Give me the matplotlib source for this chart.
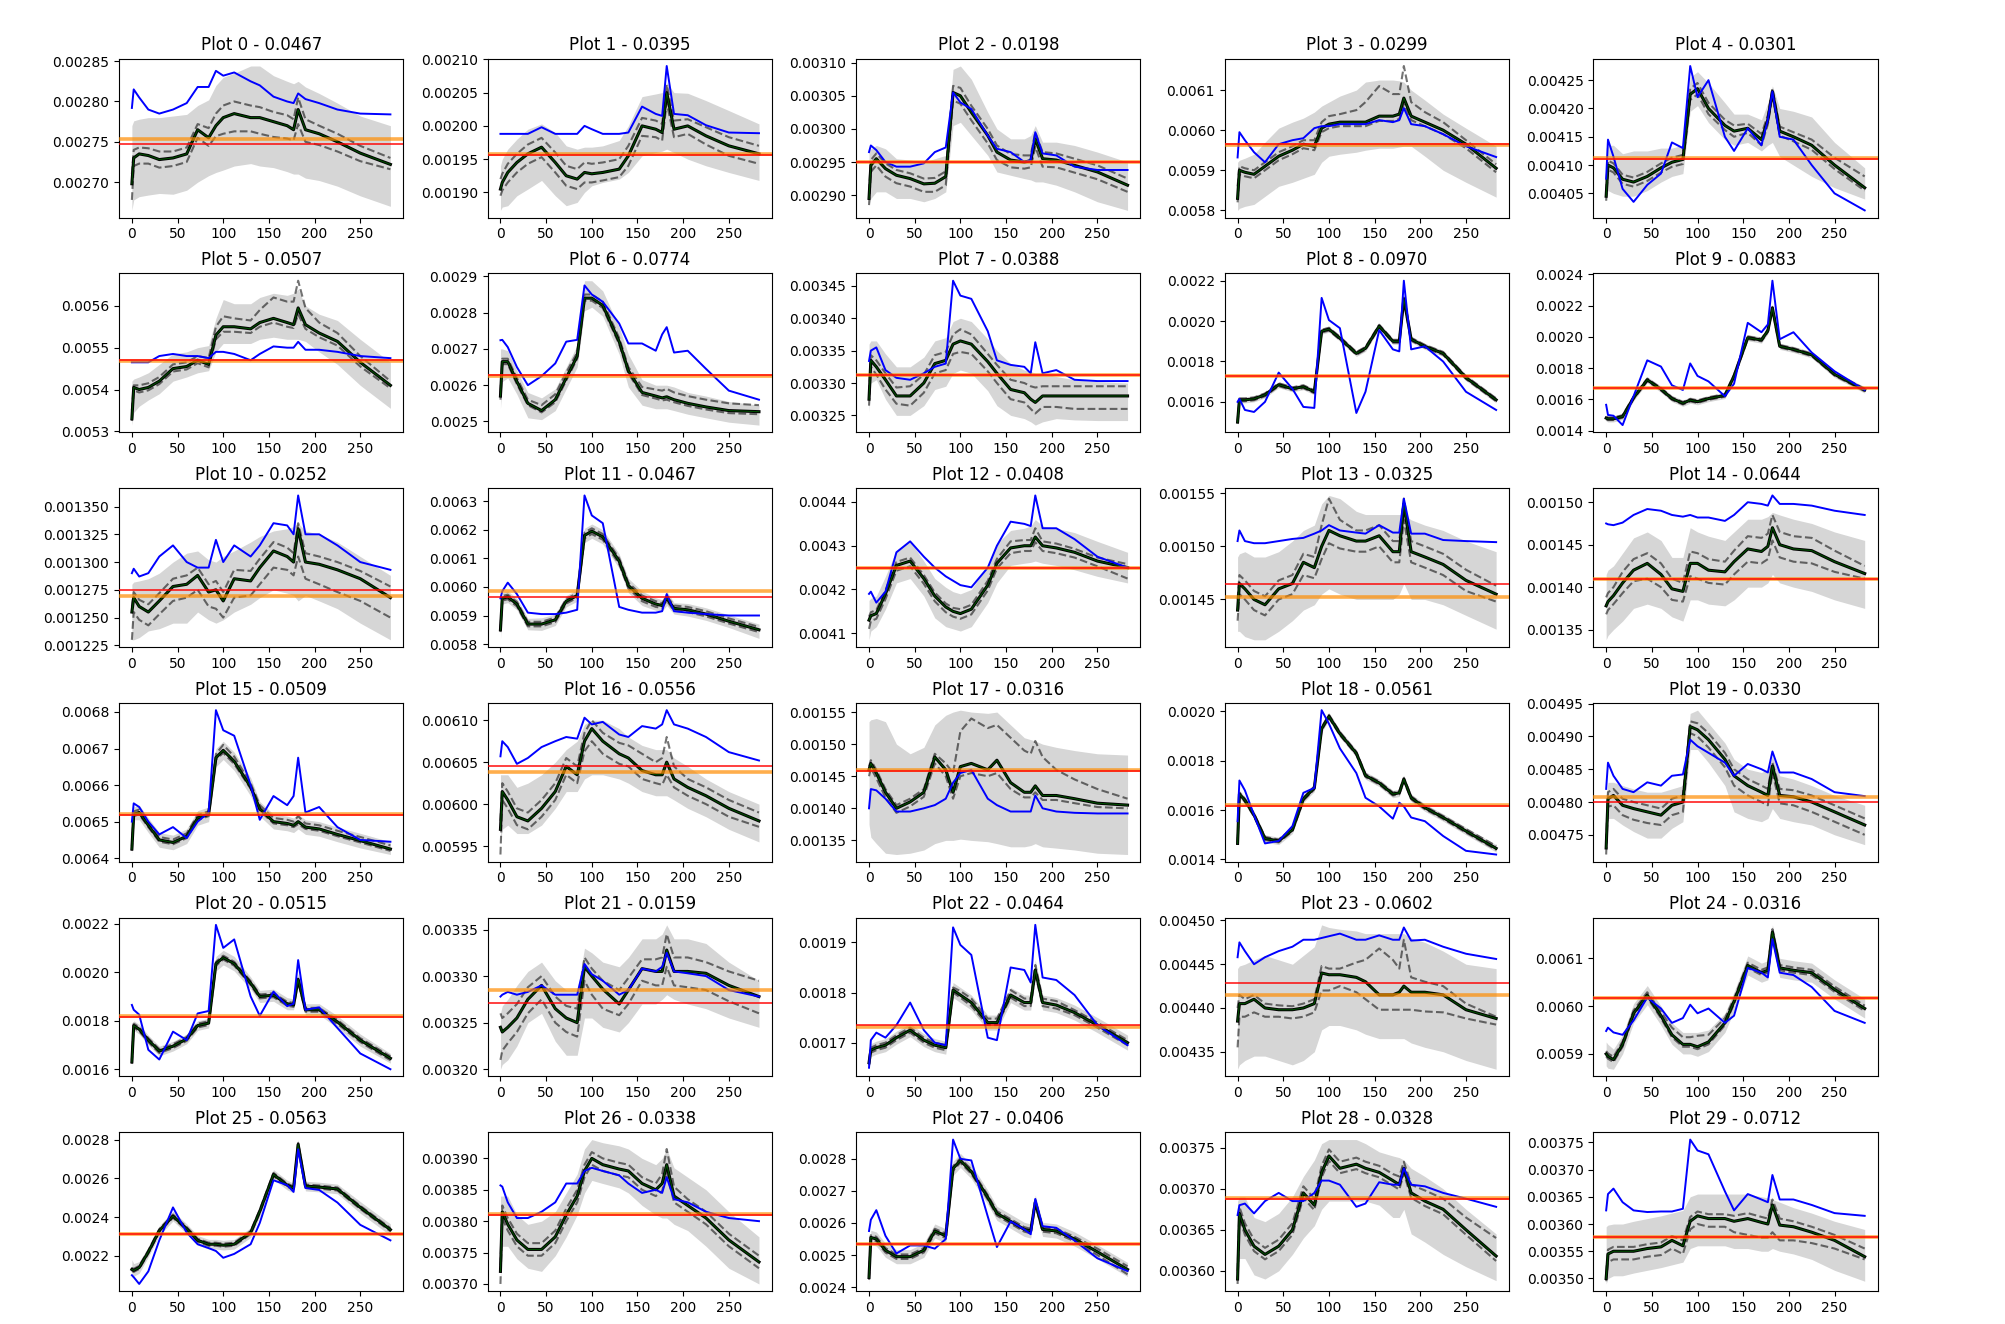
import numpy as np
import matplotlib
matplotlib.use("Agg")
import matplotlib.pyplot as plt
from matplotlib.ticker import MultipleLocator

X = [0, 2, 8, 18, 30, 45, 60, 72, 84, 92, 100, 112, 130, 140, 155, 170, 177, 182, 190, 205, 225, 250, 283]
UNIT = 1e-5  # all values below are in units of 1e-5

SCORES = [0.0467, 0.0395, 0.0198, 0.0299, 0.0301, 0.0507, 0.0774, 0.0388, 0.0970, 0.0883,
          0.0252, 0.0467, 0.0408, 0.0325, 0.0644, 0.0509, 0.0556, 0.0316, 0.0561, 0.0330,
          0.0515, 0.0159, 0.0464, 0.0602, 0.0316, 0.0563, 0.0338, 0.0406, 0.0328, 0.0712]

# y tick spacing of each panel (units of 1e-5)
YSTEP = [5, 5, 5, 10, 5, 10, 10, 5, 20, 20,
         2.5, 10, 10, 5, 5, 10, 5, 5, 20, 5,
         20, 5, 10, 5, 10, 20, 5, 10, 5, 5]

ORANGE = [275.35, 195.75, 294.95, 596.4, 411.2, 546.9, 262.4, 331.3, 172.9, 167.5,
          126.9, 598.5, 425.0, 145.25, 141.0, 652.1, 603.8, 146.0, 162.2, 480.7,
          181.8, 328.5, 173.2, 441.5, 601.8, 231.5, 381.15, 253.4, 368.85, 357.7]
RED = [274.7, 195.6, 295.05, 596.6, 411.0, 547.1, 262.7, 331.2, 172.8, 167.3,
       127.5, 596.5, 424.95, 146.5, 140.95, 651.9, 604.5, 145.8, 161.8, 479.95,
       181.5, 327.1, 173.6, 442.9, 601.6, 231.3, 381.0, 253.3, 368.7, 357.65]

BLUE = [
    [279.2, 281.5, 280.5, 279.0, 278.5, 279.0, 279.8, 281.8, 281.8, 283.8, 283.2, 283.6, 282.5, 282.0, 280.6, 280.0, 279.8, 281.0, 280.3, 279.8, 279.0, 278.5, 278.4],
    [198.8, 198.8, 198.8, 198.8, 198.8, 199.8, 198.8, 198.8, 198.8, 200.0, 199.5, 198.8, 198.8, 199.0, 202.9, 201.8, 201.5, 209.0, 201.8, 201.6, 200.1, 199.0, 198.9],
    [296.5, 297.5, 296.8, 295.0, 294.3, 294.3, 294.8, 296.5, 297.2, 305.5, 304.0, 303.0, 299.0, 297.0, 296.5, 295.0, 295.3, 299.5, 296.3, 296.0, 294.3, 293.8, 293.8],
    [593.2, 599.5, 597.5, 594.5, 592.0, 596.5, 597.5, 598.0, 600.5, 601.0, 601.0, 601.5, 601.5, 601.5, 602.5, 602.0, 602.5, 605.5, 601.5, 601.0, 599.0, 596.0, 593.3],
    [407.6, 414.5, 411.5, 405.8, 403.5, 406.5, 408.5, 414.0, 413.0, 427.5, 422.0, 425.0, 415.0, 412.5, 416.5, 413.5, 418.0, 423.0, 415.0, 414.5, 410.0, 405.0, 402.0],
    [546.5, 546.5, 546.5, 546.5, 548.0, 548.5, 548.0, 548.0, 547.5, 549.0, 549.0, 548.5, 547.0, 548.5, 550.3, 550.0, 550.0, 551.4, 549.5, 549.5, 549.0, 548.0, 547.5],
    [272.4, 272.5, 270.5, 265.0, 260.0, 262.5, 266.0, 272.0, 272.5, 287.5, 285.0, 283.0, 277.0, 271.5, 271.5, 269.5, 274.0, 276.0, 269.0, 269.5, 264.5, 258.5, 256.0],
    [333.4, 335.0, 335.5, 332.0, 330.8, 330.5, 331.5, 332.5, 333.0, 345.8, 343.5, 343.0, 338.0, 333.5, 332.8, 332.5, 331.5, 336.3, 331.5, 332.0, 330.5, 330.3, 330.3],
    [160.0, 161.5, 156.0, 155.0, 160.0, 174.5, 166.5, 157.5, 157.0, 211.5, 200.5, 196.5, 154.5, 165.0, 195.5, 186.0, 185.0, 220.0, 186.0, 187.5, 180.0, 165.0, 156.0],
    [156.5, 150.0, 149.5, 143.5, 162.0, 185.0, 181.0, 169.0, 166.0, 183.0, 175.0, 171.5, 162.0, 170.0, 209.0, 203.0, 208.0, 236.0, 198.5, 203.0, 190.0, 178.0, 166.0],
    [129.0, 129.4, 128.7, 129.0, 130.5, 131.5, 130.0, 129.5, 129.5, 132.0, 130.0, 131.5, 130.5, 131.5, 133.5, 133.3, 132.5, 136.0, 132.5, 132.5, 131.5, 130.0, 129.3],
    [596.0, 598.5, 601.5, 597.5, 591.0, 590.5, 590.5, 591.0, 592.0, 632.0, 625.0, 622.3, 593.0, 592.0, 591.0, 591.0, 591.5, 597.5, 591.5, 591.0, 590.5, 590.0, 590.0],
    [419.0, 419.5, 417.0, 419.5, 428.5, 431.0, 427.5, 425.0, 423.0, 422.0, 421.0, 420.5, 425.0, 430.0, 435.5, 435.0, 434.5, 441.5, 434.0, 434.0, 431.5, 427.5, 425.0],
    [150.5, 151.5, 150.5, 150.3, 150.3, 150.5, 150.7, 150.8, 151.2, 151.5, 152.0, 151.5, 151.3, 151.2, 152.0, 151.3, 151.3, 154.5, 151.2, 151.2, 150.6, 150.5, 150.4],
    [147.5, 147.4, 147.3, 147.6, 148.5, 149.2, 149.0, 148.5, 148.3, 148.5, 148.2, 148.2, 147.8, 148.5, 150.0, 149.8, 149.6, 150.8, 149.8, 149.8, 149.6, 149.0, 148.5],
    [650.0, 655.0, 654.0, 650.0, 646.5, 648.5, 645.5, 650.0, 652.5, 680.5, 675.0, 673.5, 660.0, 650.5, 657.0, 654.5, 657.0, 667.5, 652.5, 654.0, 648.5, 645.0, 644.5],
    [605.7, 607.5, 606.8, 604.8, 605.5, 606.8, 607.5, 608.0, 607.8, 610.3, 609.5, 609.8, 608.3, 608.0, 609.3, 609.0, 609.5, 611.2, 609.5, 609.0, 608.0, 606.2, 605.2],
    [140.0, 143.0, 142.8, 141.5, 139.5, 139.5, 140.0, 140.5, 141.5, 144.0, 145.5, 146.0, 141.5, 140.5, 139.5, 139.5, 139.5, 142.0, 140.0, 139.5, 139.3, 139.2, 139.2],
    [155.5, 172.0, 168.0, 158.0, 146.5, 147.5, 153.5, 167.0, 169.0, 200.5, 195.0, 185.0, 175.0, 165.0, 161.5, 156.5, 163.0, 161.5, 157.0, 155.5, 149.5, 143.5, 142.0],
    [482.0, 486.0, 484.0, 482.0, 481.5, 483.0, 482.5, 484.0, 484.2, 489.5, 488.5, 487.5, 486.0, 484.0, 485.8, 485.0, 484.5, 487.7, 484.5, 484.5, 483.5, 481.5, 480.9],
    [186.5, 184.5, 182.5, 168.0, 164.0, 175.5, 172.0, 183.0, 184.0, 219.5, 210.0, 213.5, 190.0, 182.0, 192.0, 186.0, 187.0, 205.0, 184.5, 185.5, 177.0, 166.5, 160.0],
    [327.8, 328.0, 328.3, 328.0, 328.3, 329.0, 328.0, 328.0, 328.0, 331.3, 330.2, 329.5, 328.0, 328.5, 330.8, 330.5, 331.0, 332.5, 330.5, 330.3, 330.0, 328.5, 327.8],
    [165.0, 170.5, 172.0, 171.0, 173.5, 178.0, 172.5, 170.0, 169.5, 193.0, 189.5, 187.5, 171.0, 170.5, 185.0, 184.5, 182.0, 193.5, 183.0, 182.5, 179.5, 173.5, 169.5],
    [445.8, 447.5, 446.5, 445.0, 445.8, 446.5, 447.0, 447.8, 447.8, 448.0, 448.2, 448.5, 447.8, 447.8, 448.3, 447.8, 447.8, 449.2, 447.7, 447.8, 447.0, 446.2, 445.6],
    [594.8, 595.5, 594.5, 594.0, 597.0, 601.8, 599.5, 596.5, 597.5, 600.3, 598.5, 599.5, 596.5, 598.0, 608.0, 607.0, 606.0, 614.0, 607.0, 606.5, 604.0, 599.0, 596.5],
    [210.0, 209.0, 205.5, 212.0, 228.0, 245.0, 232.0, 226.0, 224.0, 222.5, 219.0, 221.0, 226.0, 237.0, 259.0, 256.5, 253.0, 275.0, 255.0, 254.0, 247.5, 236.0, 228.0],
    [385.7, 385.5, 383.0, 380.5, 380.5, 381.5, 383.0, 386.0, 386.0, 388.0, 388.5, 388.0, 387.3, 386.0, 384.5, 385.0, 384.5, 387.0, 383.5, 383.0, 381.5, 380.5, 380.0],
    [257.5, 261.0, 264.0, 256.0, 250.5, 253.0, 253.0, 252.0, 255.0, 286.0, 280.0, 279.5, 262.0, 252.5, 260.5, 258.0, 256.5, 267.5, 259.0, 258.5, 254.5, 249.0, 245.0],
    [366.8, 368.0, 368.2, 367.0, 368.5, 369.5, 368.5, 368.5, 369.5, 371.0, 371.0, 370.5, 367.8, 368.2, 370.8, 370.5, 370.5, 372.5, 370.5, 370.3, 369.5, 368.8, 367.8],
    [362.5, 365.5, 366.5, 364.0, 362.5, 362.2, 362.3, 362.3, 362.8, 375.5, 373.5, 372.8, 366.0, 362.5, 365.5, 364.5, 364.0, 369.0, 364.5, 364.5, 363.5, 362.0, 361.5],
]

BLACK = [
    [269.8, 273.0, 273.5, 273.3, 272.8, 273.0, 273.5, 276.5, 275.5, 277.0, 278.0, 278.5, 278.0, 278.0, 277.5, 277.0, 276.5, 279.0, 276.5, 276.0, 275.0, 273.6, 272.2],
    [190.5, 191.5, 193.0, 194.5, 195.8, 196.8, 194.5, 192.5, 192.0, 193.0, 192.8, 193.0, 193.5, 195.5, 200.0, 199.5, 199.0, 205.0, 199.5, 200.0, 198.5, 197.0, 195.8],
    [289.5, 294.5, 295.5, 294.0, 293.0, 292.5, 291.7, 291.8, 292.8, 305.5, 305.0, 302.5, 299.0, 296.5, 295.3, 295.0, 295.2, 298.5, 295.5, 295.3, 294.5, 293.5, 291.5],
    [583.0, 590.0, 589.5, 589.0, 591.0, 593.5, 595.0, 596.5, 596.0, 600.5, 601.5, 602.0, 602.0, 602.0, 603.5, 603.5, 604.0, 608.0, 603.5, 602.0, 600.0, 596.5, 590.5],
    [404.5, 410.0, 409.5, 407.5, 407.0, 408.0, 409.5, 410.5, 411.0, 422.5, 423.5, 420.0, 417.0, 416.0, 416.5, 414.5, 418.0, 423.0, 416.0, 415.0, 413.5, 410.0, 406.0],
    [533.0, 540.5, 540.0, 540.5, 542.0, 545.0, 545.5, 547.0, 546.0, 553.0, 555.0, 555.0, 554.5, 556.0, 557.0, 556.0, 555.5, 559.5, 555.5, 553.5, 551.5, 546.5, 541.0],
    [257.0, 266.5, 266.5, 261.0, 255.0, 253.0, 256.0, 262.0, 268.0, 284.0, 284.0, 282.0, 272.0, 264.0, 258.0, 257.0, 256.5, 256.8, 256.0, 255.0, 254.0, 253.0, 252.7],
    [327.5, 333.5, 332.5, 330.5, 328.0, 328.0, 330.0, 333.0, 333.5, 336.0, 336.5, 336.0, 333.3, 331.5, 329.0, 328.5, 327.5, 327.0, 328.0, 328.0, 328.0, 328.0, 328.0],
    [150.0, 161.0, 161.0, 161.5, 163.5, 168.5, 166.5, 167.5, 165.0, 195.0, 196.0, 191.5, 184.0, 186.5, 197.5, 190.0, 190.0, 211.0, 191.0, 187.5, 184.0, 172.0, 161.0],
    [148.0, 147.5, 147.5, 149.0, 161.0, 172.5, 166.5, 160.5, 157.5, 159.5, 158.5, 160.5, 162.5, 175.0, 199.5, 198.0, 204.0, 218.5, 194.0, 192.0, 188.5, 176.0, 166.0],
    [125.5, 126.8, 126.0, 125.5, 126.5, 127.8, 128.0, 128.8, 127.3, 127.5, 126.5, 128.5, 128.3, 129.5, 131.0, 130.5, 130.0, 133.0, 130.0, 129.8, 129.3, 128.5, 126.8],
    [585.0, 596.0, 596.5, 594.0, 587.0, 587.0, 588.5, 595.0, 597.0, 618.0, 619.5, 617.5, 609.0, 600.5, 596.0, 594.0, 593.5, 596.0, 592.5, 592.0, 590.5, 588.0, 585.0],
    [413.0, 414.0, 414.5, 419.0, 425.5, 426.5, 422.5, 418.5, 416.0, 415.0, 414.5, 415.5, 421.0, 426.0, 429.5, 430.0, 430.0, 432.0, 430.0, 429.5, 428.5, 426.5, 425.0],
    [144.0, 146.5, 146.0, 145.0, 144.5, 146.0, 146.5, 148.5, 148.0, 150.0, 151.5, 151.0, 150.5, 150.5, 151.0, 149.5, 149.5, 154.0, 149.5, 149.0, 148.3, 146.8, 145.5],
    [137.8, 138.3, 139.0, 140.5, 142.0, 142.8, 141.5, 139.8, 139.5, 142.8, 142.8, 142.0, 141.8, 143.0, 144.5, 144.2, 144.8, 147.0, 145.0, 144.5, 144.3, 143.0, 141.6],
    [642.5, 652.0, 652.5, 649.0, 645.0, 644.3, 646.0, 651.0, 652.0, 667.5, 669.5, 666.5, 659.5, 653.5, 650.0, 649.5, 649.0, 650.0, 648.5, 648.0, 646.5, 644.8, 642.5],
    [597.0, 601.5, 600.5, 598.5, 598.0, 599.5, 601.5, 604.5, 603.5, 607.5, 609.0, 607.5, 606.0, 605.5, 604.0, 603.5, 603.5, 605.0, 603.0, 602.0, 601.0, 599.5, 598.0],
    [146.0, 147.0, 145.5, 142.5, 140.0, 141.0, 142.5, 148.0, 146.0, 142.5, 146.5, 147.0, 146.0, 147.5, 144.0, 142.5, 142.5, 143.5, 142.0, 142.0, 141.5, 140.8, 140.5],
    [146.5, 166.5, 164.0, 158.0, 148.5, 147.5, 152.0, 164.5, 169.0, 193.0, 198.0, 191.0, 183.0, 174.0, 171.0, 166.5, 167.0, 172.5, 165.0, 161.0, 157.0, 151.5, 144.5],
    [473.0, 480.5, 481.0, 479.5, 479.0, 478.5, 478.0, 479.5, 480.0, 491.5, 491.0, 489.5, 486.5, 484.0, 482.5, 481.5, 481.0, 485.5, 481.0, 480.8, 480.0, 478.5, 476.5],
    [163.0, 178.0, 176.5, 172.0, 167.5, 169.5, 172.5, 178.0, 179.0, 203.5, 206.0, 203.5, 195.5, 190.0, 190.5, 187.0, 186.5, 197.0, 184.5, 184.5, 179.5, 172.0, 164.5],
    [324.5, 324.0, 324.5, 325.5, 327.5, 329.0, 326.5, 325.5, 325.0, 331.0, 330.0, 328.6, 327.0, 328.5, 330.8, 330.5, 330.5, 332.8, 330.5, 330.5, 330.3, 329.0, 327.8],
    [166.0, 168.5, 169.0, 169.5, 171.0, 172.5, 170.5, 169.5, 169.0, 180.5, 179.5, 178.0, 174.0, 174.0, 179.5, 178.0, 178.0, 184.5, 178.0, 177.5, 176.0, 173.5, 170.0],
    [438.5, 440.5, 440.5, 441.0, 440.0, 439.8, 439.8, 440.0, 440.5, 444.0, 443.8, 443.8, 443.5, 443.0, 441.5, 441.5, 441.8, 442.5, 441.8, 441.8, 441.5, 439.8, 438.8],
    [590.0, 589.5, 588.8, 592.0, 598.5, 602.3, 598.0, 594.0, 592.0, 592.0, 591.5, 592.5, 596.5, 601.0, 608.5, 607.0, 607.5, 615.5, 608.0, 607.5, 607.0, 603.5, 599.5],
    [213.0, 212.5, 214.0, 222.0, 233.0, 240.5, 234.0, 228.0, 226.0, 226.0, 225.5, 226.0, 232.0, 243.0, 262.0, 256.5, 255.0, 277.5, 256.0, 255.5, 254.5, 245.0, 233.5],
    [372.0, 381.5, 379.5, 377.0, 375.5, 375.5, 377.5, 381.0, 384.0, 388.0, 390.0, 389.0, 388.3, 388.0, 386.0, 385.0, 386.0, 389.0, 384.0, 382.5, 380.5, 377.0, 373.5],
    [243.0, 255.5, 255.0, 251.5, 249.5, 249.5, 251.5, 257.5, 256.0, 277.0, 279.5, 276.0, 268.0, 263.0, 260.5, 258.0, 257.5, 266.5, 258.0, 257.5, 255.0, 251.0, 245.5],
    [359.0, 367.0, 365.0, 363.0, 362.0, 363.0, 365.0, 369.5, 368.0, 372.0, 374.0, 372.5, 373.0, 372.5, 372.0, 371.0, 370.5, 372.5, 369.5, 368.5, 367.5, 365.0, 361.8],
    [350.0, 354.5, 355.0, 355.0, 355.0, 355.5, 355.8, 357.0, 356.0, 360.5, 361.5, 361.0, 361.0, 360.5, 361.0, 360.3, 360.0, 363.5, 359.8, 359.5, 358.5, 357.0, 354.0],
]

DASH_HI = [
    [271.0, 274.0, 274.3, 274.2, 273.8, 273.8, 274.3, 277.2, 276.7, 278.5, 279.5, 280.0, 279.5, 279.3, 278.7, 278.3, 277.8, 280.5, 277.8, 277.0, 276.0, 274.5, 273.0],
    [192.0, 192.8, 194.3, 195.8, 197.2, 198.2, 196.0, 194.0, 193.5, 194.5, 194.3, 194.5, 195.0, 197.0, 201.2, 200.8, 200.3, 206.2, 200.8, 201.0, 199.8, 198.3, 197.0],
    [290.5, 295.3, 296.3, 294.8, 293.8, 293.3, 292.5, 292.6, 293.6, 306.5, 306.2, 303.5, 300.0, 297.5, 296.2, 296.0, 296.0, 299.5, 296.5, 296.3, 295.5, 294.5, 292.5],
    [586.0, 591.0, 590.5, 590.0, 592.0, 594.5, 596.0, 597.5, 597.5, 602.0, 603.5, 604.0, 605.0, 607.0, 611.0, 609.0, 609.0, 616.0, 607.0, 604.5, 602.0, 597.5, 591.5],
    [405.3, 410.8, 410.3, 408.3, 407.8, 408.8, 410.3, 411.3, 411.8, 423.5, 424.5, 421.0, 418.0, 417.0, 417.3, 415.5, 418.8, 423.5, 416.8, 415.8, 414.5, 411.3, 408.0],
    [535.0, 541.0, 541.0, 541.5, 543.0, 546.0, 546.5, 548.0, 547.5, 555.0, 557.5, 557.0, 556.5, 559.0, 562.0, 561.0, 561.0, 566.0, 559.5, 556.0, 553.5, 548.0, 542.0],
    [258.0, 267.3, 267.3, 262.0, 256.0, 254.5, 257.5, 263.5, 269.0, 285.0, 285.0, 283.0, 273.0, 265.0, 259.5, 258.8, 258.5, 259.0, 258.0, 257.0, 256.0, 255.0, 254.5],
    [328.5, 334.3, 333.5, 331.5, 329.3, 329.5, 331.3, 334.3, 334.8, 337.5, 338.3, 337.5, 334.5, 332.8, 330.5, 330.0, 329.5, 329.3, 329.5, 329.5, 329.5, 329.5, 329.5],
    [150.7, 161.7, 161.7, 162.2, 164.2, 169.2, 167.2, 168.2, 165.7, 195.7, 196.7, 192.2, 184.7, 187.2, 198.2, 190.7, 190.7, 211.7, 191.7, 188.2, 184.7, 172.7, 161.7],
    [148.8, 148.3, 148.3, 149.8, 161.8, 173.3, 167.3, 161.3, 158.3, 160.3, 159.3, 161.3, 163.3, 175.8, 200.3, 198.8, 204.8, 219.3, 194.8, 192.8, 189.3, 176.8, 166.8],
    [126.0, 127.3, 126.6, 126.2, 127.2, 128.5, 128.8, 129.5, 128.0, 128.3, 127.3, 129.3, 129.2, 130.3, 131.8, 131.3, 130.8, 133.5, 130.8, 130.5, 130.0, 129.2, 127.8],
    [585.8, 596.8, 597.3, 594.8, 587.8, 587.8, 589.3, 595.8, 597.8, 619.0, 620.5, 618.5, 610.0, 601.5, 597.0, 595.0, 594.3, 596.8, 593.5, 593.0, 591.5, 589.0, 586.0],
    [413.8, 414.8, 415.3, 419.8, 426.3, 427.3, 423.3, 419.3, 416.8, 415.8, 415.5, 416.5, 422.0, 427.0, 431.0, 431.3, 431.3, 434.0, 431.0, 430.5, 429.3, 427.3, 425.8],
    [145.0, 147.3, 146.8, 145.8, 145.3, 146.8, 147.3, 149.3, 149.0, 152.0, 154.5, 152.5, 151.5, 151.5, 152.0, 150.5, 150.5, 154.5, 150.5, 150.0, 149.3, 147.8, 146.3],
    [138.8, 139.3, 140.0, 141.8, 143.3, 144.0, 142.8, 141.0, 140.5, 144.2, 144.0, 143.3, 143.0, 144.3, 146.0, 145.8, 146.3, 148.5, 146.5, 146.0, 145.8, 144.3, 142.5],
    [643.3, 652.8, 653.3, 649.8, 645.8, 645.1, 646.8, 651.8, 652.8, 668.5, 671.0, 667.8, 660.5, 654.5, 651.0, 650.5, 650.0, 651.5, 649.5, 649.0, 647.5, 645.8, 643.5],
    [598.0, 602.5, 601.5, 599.5, 599.0, 600.5, 602.5, 605.5, 604.5, 608.5, 610.0, 608.5, 607.3, 607.0, 606.0, 605.0, 605.5, 608.0, 604.5, 603.0, 602.0, 600.5, 599.0],
    [146.5, 147.5, 146.0, 143.0, 140.5, 141.5, 143.0, 148.5, 147.0, 145.5, 152.0, 154.0, 152.5, 153.0, 151.0, 149.0, 148.5, 150.5, 148.0, 146.0, 144.5, 143.0, 141.5],
    [147.1, 167.1, 164.6, 158.6, 149.1, 148.1, 152.6, 165.1, 169.6, 193.6, 198.6, 191.6, 183.6, 174.6, 171.6, 167.1, 167.6, 173.1, 165.6, 161.6, 157.6, 152.3, 145.5],
    [474.0, 481.5, 482.0, 480.5, 480.0, 479.5, 479.0, 480.5, 481.0, 492.3, 492.0, 490.5, 487.5, 485.0, 483.5, 482.5, 482.0, 486.0, 482.0, 481.8, 481.0, 479.5, 477.5],
    [163.8, 178.8, 177.3, 172.8, 168.3, 170.3, 173.3, 178.8, 179.8, 204.3, 206.8, 204.3, 196.3, 190.8, 191.3, 187.8, 187.3, 197.8, 185.3, 185.3, 180.3, 172.8, 165.3],
    [326.0, 325.5, 326.0, 327.0, 328.8, 330.0, 327.8, 326.8, 326.5, 332.0, 330.8, 329.5, 328.5, 329.8, 331.8, 331.8, 332.0, 334.5, 332.0, 332.0, 331.5, 330.5, 329.5],
    [166.5, 169.0, 169.5, 170.0, 171.5, 173.0, 171.0, 170.0, 169.5, 181.0, 180.3, 178.8, 174.8, 174.8, 180.5, 178.8, 178.8, 185.5, 178.8, 178.3, 176.5, 174.0, 170.5],
    [440.0, 441.5, 441.0, 441.5, 440.5, 440.3, 440.2, 440.5, 441.0, 444.8, 444.5, 444.5, 445.2, 445.5, 446.8, 445.5, 444.5, 447.8, 443.5, 443.0, 442.5, 440.5, 439.0],
    [590.6, 590.1, 589.4, 592.6, 599.1, 602.9, 598.8, 595.5, 593.5, 593.5, 593.8, 594.0, 597.5, 601.6, 609.1, 607.6, 608.1, 616.1, 608.6, 608.1, 607.6, 604.1, 600.1],
    [213.8, 213.3, 214.8, 222.8, 233.8, 241.3, 234.8, 228.8, 226.8, 226.8, 226.3, 226.8, 232.8, 243.8, 262.8, 257.3, 255.8, 278.3, 256.8, 256.3, 255.3, 245.8, 234.3],
    [373.0, 382.5, 380.5, 378.0, 376.5, 376.5, 378.5, 382.0, 385.0, 389.0, 391.0, 390.0, 389.3, 389.0, 387.0, 386.0, 387.5, 391.5, 385.5, 383.5, 381.5, 378.0, 374.5],
    [243.7, 256.2, 255.7, 252.2, 250.2, 250.2, 252.2, 258.2, 256.7, 277.7, 280.2, 276.7, 268.7, 263.7, 261.2, 258.7, 258.2, 267.2, 258.7, 258.2, 255.7, 252.0, 246.5],
    [360.0, 367.8, 365.8, 363.8, 362.8, 363.8, 365.8, 370.3, 368.8, 372.8, 374.8, 373.3, 373.8, 373.3, 372.8, 371.8, 371.5, 373.3, 370.5, 369.8, 368.8, 366.5, 364.0],
    [351.0, 355.3, 355.8, 355.8, 355.8, 356.3, 356.6, 357.8, 357.0, 361.3, 362.3, 361.8, 361.8, 361.5, 362.0, 361.3, 361.0, 364.5, 361.0, 360.5, 359.5, 358.0, 355.5],
]

DASH_LO = [
    [267.8, 272.0, 272.3, 272.3, 271.8, 272.0, 272.5, 275.5, 274.5, 275.7, 276.0, 276.3, 276.3, 276.0, 275.6, 275.4, 275.2, 277.2, 275.0, 274.6, 273.8, 272.6, 271.6],
    [189.5, 190.3, 191.5, 193.0, 194.3, 195.3, 193.0, 191.0, 190.5, 191.5, 191.5, 191.8, 192.3, 194.0, 198.5, 198.3, 197.8, 203.5, 198.3, 198.8, 197.2, 195.5, 194.3],
    [288.5, 293.5, 294.5, 292.8, 291.8, 291.3, 290.5, 290.5, 291.5, 304.3, 303.8, 301.3, 297.8, 295.3, 294.2, 294.0, 294.2, 297.3, 294.3, 294.2, 293.4, 292.4, 290.5],
    [582.0, 589.0, 588.5, 588.0, 590.0, 592.5, 594.0, 595.5, 595.0, 599.5, 600.5, 601.0, 601.0, 601.0, 602.3, 602.3, 602.8, 606.5, 602.5, 601.0, 599.0, 595.5, 589.5],
    [403.7, 409.2, 408.7, 406.7, 406.2, 407.2, 408.7, 409.7, 410.2, 421.5, 422.5, 419.0, 416.2, 415.0, 415.7, 413.5, 417.2, 422.3, 415.2, 414.2, 412.7, 409.3, 405.5],
    [532.5, 539.8, 539.3, 539.8, 541.3, 544.3, 544.8, 546.3, 545.3, 552.0, 553.8, 553.8, 553.5, 555.0, 556.0, 555.0, 554.7, 558.0, 554.5, 552.5, 550.5, 545.5, 540.3],
    [256.0, 265.8, 265.8, 260.3, 254.5, 252.5, 255.3, 261.3, 267.3, 283.3, 283.3, 281.3, 271.3, 263.3, 257.3, 256.3, 255.8, 256.0, 255.3, 254.3, 253.3, 252.3, 252.0],
    [326.5, 332.5, 331.3, 329.0, 326.8, 326.5, 328.5, 331.5, 332.0, 334.5, 334.8, 334.5, 331.8, 330.0, 327.5, 327.0, 326.0, 325.3, 326.3, 326.3, 326.0, 326.0, 326.0],
    [149.3, 160.3, 160.3, 160.8, 162.8, 167.8, 165.8, 166.8, 164.3, 194.3, 195.3, 190.8, 183.3, 185.8, 196.8, 189.3, 189.3, 210.3, 190.3, 186.8, 183.3, 171.3, 160.3],
    [147.2, 146.7, 146.7, 148.2, 160.2, 171.7, 165.7, 159.7, 156.7, 158.7, 157.7, 159.7, 161.7, 174.2, 198.7, 197.2, 203.2, 217.7, 193.2, 191.2, 187.7, 175.2, 165.2],
    [123.0, 125.5, 124.8, 124.3, 125.3, 126.5, 126.8, 127.5, 126.0, 125.8, 125.0, 126.8, 127.0, 128.0, 129.5, 129.3, 128.8, 130.5, 128.5, 128.0, 127.3, 126.5, 125.0],
    [584.2, 595.2, 595.7, 593.2, 586.2, 586.2, 587.7, 594.2, 596.2, 617.0, 618.5, 616.5, 608.0, 599.5, 595.0, 593.0, 592.7, 595.2, 591.7, 591.2, 589.7, 587.2, 584.2],
    [411.0, 412.8, 413.3, 417.8, 424.3, 425.3, 421.3, 417.3, 414.8, 413.8, 413.3, 414.3, 419.8, 424.8, 428.3, 428.8, 428.8, 430.8, 428.8, 428.3, 427.3, 425.3, 422.5],
    [143.0, 145.5, 145.0, 144.0, 143.5, 145.0, 145.5, 147.3, 147.0, 148.8, 150.3, 149.8, 149.5, 149.5, 150.0, 148.5, 148.5, 152.5, 148.5, 148.0, 147.3, 145.8, 144.8],
    [136.8, 137.3, 138.0, 139.3, 140.7, 141.0, 140.0, 138.5, 138.3, 141.3, 141.0, 140.5, 140.3, 141.5, 143.0, 142.8, 143.3, 145.5, 143.5, 143.0, 142.8, 141.8, 141.0],
    [642.0, 651.5, 652.0, 648.5, 644.5, 643.8, 645.5, 650.5, 651.5, 667.0, 668.8, 665.8, 659.0, 653.0, 649.5, 649.0, 648.5, 649.3, 648.0, 647.5, 646.0, 644.3, 642.0],
    [594.0, 600.5, 599.5, 597.5, 597.0, 598.5, 600.5, 603.5, 602.5, 606.3, 607.5, 606.0, 604.8, 604.5, 603.0, 602.5, 602.3, 603.5, 602.0, 601.0, 600.0, 598.5, 597.3],
    [145.0, 146.3, 144.7, 141.7, 139.3, 140.3, 141.8, 147.0, 145.0, 141.5, 145.0, 145.5, 145.0, 145.5, 143.0, 141.7, 141.7, 142.5, 141.3, 141.3, 140.8, 140.2, 140.0],
    [145.9, 165.9, 163.4, 157.4, 147.9, 146.9, 151.4, 163.9, 168.4, 192.4, 197.4, 190.4, 182.4, 173.4, 170.4, 165.9, 166.4, 171.9, 164.4, 160.4, 156.4, 150.9, 143.9],
    [472.0, 479.3, 479.5, 478.0, 477.3, 476.8, 476.5, 478.0, 478.5, 490.5, 490.0, 488.3, 485.3, 482.5, 481.0, 480.0, 479.5, 484.5, 479.8, 479.5, 478.5, 477.0, 475.0],
    [162.2, 177.2, 175.7, 171.2, 166.7, 168.7, 171.7, 177.2, 178.2, 202.7, 205.2, 202.7, 194.7, 189.2, 189.7, 186.2, 185.7, 196.2, 183.7, 183.7, 178.7, 171.2, 163.7],
    [321.0, 322.0, 322.8, 324.0, 326.0, 327.5, 325.0, 324.0, 323.5, 329.5, 328.0, 326.5, 325.8, 327.0, 329.5, 329.0, 329.0, 331.0, 329.0, 328.8, 328.5, 327.3, 326.0],
    [165.5, 168.0, 168.5, 169.0, 170.5, 172.0, 170.0, 169.0, 168.5, 180.0, 179.0, 177.3, 173.5, 173.5, 179.0, 177.3, 177.3, 183.8, 177.3, 176.8, 175.5, 173.0, 169.5],
    [435.5, 439.0, 439.0, 439.5, 439.0, 439.0, 438.8, 439.0, 439.5, 442.0, 442.0, 442.5, 441.8, 441.0, 439.8, 439.8, 439.8, 439.8, 439.8, 439.6, 439.5, 438.8, 438.1],
    [589.5, 589.0, 588.3, 591.5, 598.0, 601.8, 597.5, 593.5, 591.5, 591.5, 591.0, 592.0, 596.0, 600.5, 608.0, 606.5, 607.0, 615.0, 607.5, 607.0, 606.5, 603.0, 599.0],
    [212.2, 211.7, 213.2, 221.2, 232.2, 239.7, 233.2, 227.2, 225.2, 225.2, 224.7, 225.2, 231.2, 242.2, 261.2, 255.7, 254.2, 276.7, 255.2, 254.7, 253.7, 244.2, 232.7],
    [370.0, 380.5, 378.5, 376.0, 374.5, 374.5, 376.5, 380.0, 383.0, 387.0, 389.0, 388.0, 387.3, 387.0, 385.0, 384.0, 384.8, 387.8, 383.0, 381.5, 379.5, 376.0, 372.5],
    [242.3, 254.8, 254.3, 250.8, 248.8, 248.8, 250.8, 256.8, 255.3, 276.3, 278.8, 275.3, 267.3, 262.3, 259.8, 257.3, 256.8, 265.8, 257.3, 256.8, 254.3, 250.0, 244.0],
    [358.4, 366.4, 364.4, 362.4, 361.4, 362.4, 364.4, 368.9, 367.4, 371.4, 373.4, 371.9, 372.4, 371.9, 371.4, 370.4, 369.9, 371.9, 368.9, 367.9, 366.9, 364.4, 361.2],
    [349.5, 353.0, 353.5, 353.5, 353.5, 354.0, 354.3, 355.5, 354.5, 359.0, 360.0, 359.5, 359.5, 358.5, 358.0, 357.5, 357.5, 358.5, 357.0, 357.0, 356.5, 355.5, 353.5],
]

BAND_LO = [
    [266.5, 267.8, 268.2, 268.4, 268.6, 268.5, 269.0, 270.0, 270.8, 271.2, 271.5, 272.0, 272.3, 272.0, 271.8, 271.3, 271.0, 271.0, 270.5, 270.2, 269.5, 268.3, 267.0],
    [187.3, 187.8, 188.0, 189.5, 190.5, 191.8, 189.5, 188.0, 188.5, 190.0, 191.0, 191.5, 192.0, 193.0, 195.5, 196.0, 196.2, 196.5, 196.0, 195.0, 194.0, 193.0, 191.8],
    [288.5, 289.5, 290.5, 290.5, 289.5, 289.5, 289.0, 289.5, 290.5, 300.5, 301.0, 299.0, 296.0, 293.5, 293.0, 292.5, 292.3, 292.0, 292.0, 291.5, 290.5, 289.0, 287.7],
    [580.0, 580.5, 581.0, 581.5, 583.5, 586.0, 587.0, 588.0, 589.0, 592.0, 593.5, 594.0, 594.5, 595.0, 595.5, 595.5, 595.8, 596.0, 596.0, 593.5, 590.0, 587.0, 583.3],
    [404.0, 405.5, 405.0, 404.5, 404.5, 405.5, 407.0, 408.0, 408.5, 419.5, 420.5, 417.5, 414.5, 413.5, 414.0, 412.5, 413.5, 414.0, 411.5, 410.0, 408.0, 406.0, 404.0],
    [531.5, 534.5, 536.0, 537.5, 539.0, 542.0, 543.0, 544.0, 544.5, 549.0, 551.0, 551.0, 551.0, 552.0, 552.5, 552.0, 552.0, 552.0, 551.5, 549.0, 546.0, 541.0, 535.5],
    [253.5, 261.0, 262.0, 257.5, 251.0, 250.5, 253.0, 259.0, 265.0, 280.5, 281.5, 279.0, 268.5, 259.5, 254.5, 253.5, 253.5, 253.5, 253.0, 252.0, 251.0, 249.8, 249.0],
    [325.5, 330.0, 330.5, 327.5, 325.0, 325.0, 326.5, 329.0, 329.5, 331.5, 332.0, 331.5, 328.8, 326.5, 325.0, 324.5, 324.0, 323.5, 324.0, 324.5, 324.3, 324.2, 324.2],
    [148.5, 159.5, 159.5, 160.0, 162.0, 167.0, 165.0, 166.0, 163.5, 193.5, 194.5, 190.0, 182.5, 185.0, 196.0, 188.5, 188.5, 209.5, 189.5, 186.0, 182.5, 170.5, 159.5],
    [146.0, 145.5, 145.5, 147.0, 159.0, 170.5, 164.5, 158.5, 155.5, 157.5, 156.5, 158.5, 160.5, 173.0, 197.5, 196.0, 202.0, 216.5, 192.0, 190.0, 186.5, 174.0, 164.0],
    [123.0, 123.0, 123.2, 123.8, 124.0, 124.5, 124.5, 125.5, 124.8, 124.5, 124.8, 125.5, 126.2, 126.8, 127.5, 127.2, 127.0, 126.5, 127.0, 126.5, 125.8, 124.5, 123.0],
    [581.5, 594.0, 594.5, 592.0, 585.0, 584.8, 586.5, 593.0, 595.0, 615.5, 617.0, 615.0, 606.5, 598.0, 593.5, 591.8, 591.5, 593.5, 590.5, 589.8, 588.3, 585.8, 582.0],
    [408.5, 410.5, 411.5, 415.5, 421.5, 422.5, 418.5, 413.5, 411.5, 411.0, 410.5, 411.5, 417.0, 421.5, 425.5, 426.0, 426.2, 426.5, 426.0, 425.5, 424.5, 423.0, 421.5],
    [142.0, 142.0, 141.5, 141.2, 141.2, 142.0, 143.0, 144.0, 144.5, 145.5, 146.0, 145.5, 145.0, 145.0, 145.0, 145.0, 145.5, 146.5, 145.0, 145.0, 144.5, 143.5, 142.2],
    [133.8, 134.3, 135.0, 136.0, 137.5, 138.0, 137.5, 136.5, 136.0, 138.5, 138.5, 138.0, 137.8, 138.5, 140.0, 140.0, 140.5, 141.5, 140.5, 140.0, 139.5, 138.5, 137.5],
    [641.0, 650.5, 650.5, 647.0, 643.0, 642.3, 644.0, 649.0, 650.0, 665.0, 667.0, 664.0, 657.0, 651.5, 648.0, 647.5, 647.0, 648.0, 646.5, 646.0, 644.5, 642.8, 641.0],
    [595.5, 597.0, 597.5, 596.5, 596.5, 597.5, 599.5, 601.5, 601.5, 603.0, 603.5, 603.5, 603.0, 602.5, 601.5, 601.0, 601.0, 601.0, 600.5, 599.5, 598.5, 597.0, 595.5],
    [137.5, 135.5, 134.5, 133.0, 132.8, 133.0, 133.5, 134.5, 135.0, 135.0, 135.2, 135.0, 134.8, 134.5, 134.0, 134.0, 134.2, 134.5, 134.0, 133.8, 133.5, 133.0, 132.8],
    [145.0, 165.0, 162.5, 156.5, 147.0, 146.0, 150.5, 163.0, 167.5, 191.5, 196.5, 189.5, 181.5, 172.5, 169.5, 165.0, 165.5, 171.0, 163.5, 159.5, 155.5, 150.0, 143.0],
    [472.0, 477.5, 477.5, 476.5, 475.5, 474.5, 474.5, 476.0, 477.0, 488.0, 488.0, 486.0, 482.5, 478.5, 477.5, 477.0, 477.5, 479.0, 477.5, 477.0, 476.5, 475.0, 473.5],
    [161.0, 176.0, 174.5, 170.0, 165.5, 167.5, 170.5, 176.0, 177.0, 200.5, 203.0, 200.5, 193.0, 187.5, 188.0, 184.5, 184.5, 194.5, 182.5, 182.5, 177.0, 169.5, 162.5],
    [320.0, 320.5, 321.0, 322.5, 325.0, 326.0, 323.0, 321.5, 321.5, 325.5, 325.5, 324.5, 324.0, 325.0, 327.0, 327.0, 327.5, 328.0, 327.5, 327.0, 326.5, 325.5, 324.5],
    [164.7, 167.2, 167.7, 168.2, 169.7, 171.2, 169.2, 168.2, 167.7, 179.0, 178.0, 176.5, 172.5, 172.5, 178.0, 176.5, 176.5, 182.5, 176.5, 176.0, 174.5, 172.0, 168.5],
    [433.0, 433.5, 434.0, 434.5, 434.5, 434.0, 433.5, 434.0, 435.0, 437.5, 438.0, 438.0, 437.5, 437.0, 436.5, 436.5, 436.5, 436.5, 436.0, 435.5, 435.0, 434.0, 433.0],
    [587.5, 587.0, 586.8, 590.0, 596.5, 600.3, 596.0, 592.0, 590.0, 590.0, 589.5, 590.5, 594.5, 599.0, 606.5, 605.0, 605.5, 613.0, 606.0, 605.5, 605.0, 601.5, 597.5],
    [209.0, 209.5, 211.0, 219.5, 230.5, 238.0, 231.5, 225.5, 223.5, 223.5, 223.0, 223.5, 229.5, 240.5, 259.5, 254.0, 252.5, 275.0, 253.5, 253.0, 252.0, 242.0, 230.5],
    [370.5, 376.0, 376.0, 374.0, 372.5, 372.0, 374.5, 377.5, 381.0, 384.5, 386.5, 386.0, 385.3, 384.5, 382.5, 381.0, 380.5, 380.5, 379.5, 378.5, 376.0, 372.5, 370.0],
    [241.0, 253.3, 252.8, 249.3, 247.3, 247.3, 249.3, 255.3, 253.8, 274.8, 277.3, 273.8, 265.8, 260.8, 258.3, 255.8, 255.3, 264.3, 255.8, 255.3, 252.8, 248.8, 243.3],
    [359.0, 361.5, 361.5, 359.5, 359.0, 360.0, 362.0, 364.0, 365.5, 367.5, 368.5, 368.5, 368.5, 368.5, 368.0, 366.5, 366.5, 367.5, 364.5, 363.5, 362.0, 360.5, 358.8],
    [349.0, 350.0, 350.5, 350.5, 351.0, 351.5, 352.0, 352.5, 353.0, 355.5, 356.0, 356.0, 356.0, 355.5, 355.5, 355.0, 355.0, 355.5, 355.0, 354.5, 353.5, 351.5, 349.5],
]

BAND_HI = [
    [277.0, 277.6, 277.8, 278.0, 278.0, 278.2, 278.4, 279.5, 280.2, 282.0, 283.0, 283.5, 284.4, 284.4, 283.2, 282.5, 282.2, 282.5, 281.8, 281.0, 279.8, 278.2, 277.0],
    [194.0, 195.0, 196.5, 198.0, 199.5, 200.3, 199.0, 197.0, 196.5, 196.8, 196.8, 197.0, 197.8, 200.0, 204.4, 204.8, 205.0, 206.5, 205.0, 204.9, 203.8, 202.3, 200.3],
    [296.5, 297.0, 297.5, 297.0, 295.5, 295.3, 295.0, 295.5, 296.0, 309.0, 309.5, 307.5, 302.5, 300.0, 298.5, 298.5, 299.0, 300.5, 298.0, 298.0, 297.5, 296.5, 295.0],
    [592.0, 592.5, 593.0, 594.0, 597.0, 600.5, 602.0, 603.0, 604.5, 606.0, 607.0, 608.5, 610.0, 612.0, 612.5, 612.5, 612.3, 612.0, 610.0, 607.5, 604.0, 600.5, 596.0],
    [413.0, 413.5, 413.5, 412.0, 412.5, 412.5, 413.0, 413.0, 413.5, 425.5, 426.5, 424.5, 421.0, 419.0, 419.0, 418.0, 421.0, 424.0, 420.0, 419.5, 418.5, 414.0, 409.5],
    [542.0, 542.5, 543.0, 544.0, 546.0, 548.5, 549.0, 550.0, 550.5, 557.0, 561.5, 560.5, 560.5, 562.0, 563.0, 562.5, 563.0, 564.0, 560.0, 558.0, 556.5, 552.0, 546.5],
    [270.0, 270.0, 269.5, 264.0, 258.0, 256.5, 259.0, 265.0, 271.0, 288.8, 288.8, 286.0, 276.0, 268.5, 261.5, 260.0, 260.0, 260.0, 259.5, 258.0, 257.0, 255.5, 254.5],
    [336.0, 336.5, 336.5, 334.5, 332.5, 332.5, 334.0, 336.5, 337.0, 339.5, 340.0, 339.5, 336.8, 335.0, 333.0, 332.0, 331.8, 331.5, 331.5, 331.0, 330.5, 330.2, 330.0],
    [151.5, 162.5, 162.5, 163.0, 165.0, 170.0, 168.0, 169.0, 166.5, 196.5, 197.5, 193.0, 185.5, 188.0, 199.0, 191.5, 191.5, 212.5, 192.5, 189.0, 185.5, 173.5, 162.5],
    [150.0, 149.5, 149.5, 151.0, 163.0, 174.5, 168.5, 162.5, 159.5, 161.5, 160.5, 162.5, 164.5, 177.0, 201.5, 200.0, 206.0, 220.5, 196.0, 194.0, 190.5, 178.0, 168.0],
    [128.0, 128.2, 128.3, 128.5, 129.0, 130.0, 130.8, 131.0, 130.2, 130.0, 130.5, 131.0, 131.8, 132.3, 132.8, 133.0, 133.2, 133.5, 132.8, 132.5, 131.8, 130.5, 128.8],
    [587.0, 598.0, 598.5, 596.0, 589.0, 589.2, 590.5, 597.0, 599.0, 620.5, 622.0, 620.0, 611.5, 603.0, 598.5, 596.2, 595.5, 598.5, 594.5, 594.2, 592.7, 590.2, 587.0],
    [417.5, 418.0, 418.5, 423.0, 429.0, 431.0, 426.5, 422.5, 420.5, 419.5, 419.0, 420.0, 425.5, 430.5, 433.5, 434.0, 434.5, 436.0, 434.5, 434.0, 433.0, 431.0, 428.5],
    [149.0, 149.3, 149.5, 149.0, 149.0, 149.5, 150.5, 151.5, 152.0, 154.0, 154.8, 154.5, 153.3, 153.0, 153.0, 153.0, 153.0, 153.0, 152.5, 152.0, 151.5, 150.5, 149.5],
    [141.5, 142.0, 142.5, 144.0, 145.8, 146.5, 145.5, 143.5, 143.5, 147.0, 146.5, 146.0, 145.5, 146.5, 148.0, 148.0, 148.3, 148.8, 148.5, 148.0, 147.5, 146.5, 145.5],
    [644.5, 654.0, 654.5, 651.0, 647.0, 646.3, 648.0, 653.0, 654.0, 670.0, 672.0, 669.0, 662.0, 655.5, 652.0, 651.5, 651.0, 652.0, 650.5, 650.0, 648.5, 646.8, 644.5],
    [603.5, 603.5, 603.5, 602.0, 602.5, 603.5, 605.0, 606.5, 607.5, 609.5, 610.0, 610.0, 609.0, 608.0, 607.0, 606.5, 606.5, 606.5, 605.5, 604.5, 603.0, 601.5, 600.0],
    [153.5, 153.8, 154.0, 153.5, 150.0, 148.5, 149.5, 153.0, 154.5, 155.0, 155.3, 155.0, 154.8, 155.0, 153.0, 151.0, 150.7, 150.5, 150.0, 149.5, 149.0, 148.5, 148.3],
    [148.0, 168.0, 165.5, 159.5, 150.0, 149.0, 153.5, 166.0, 170.5, 194.5, 199.5, 192.5, 184.5, 175.5, 172.5, 168.0, 168.5, 174.0, 166.5, 162.5, 158.5, 153.0, 146.0],
    [481.0, 483.0, 483.0, 482.5, 482.0, 481.5, 481.5, 482.0, 482.5, 493.5, 494.0, 492.0, 489.0, 486.5, 485.0, 484.5, 485.0, 487.0, 484.0, 483.5, 482.5, 481.0, 479.5],
    [165.0, 180.0, 178.5, 174.0, 169.5, 171.5, 174.5, 180.0, 181.0, 206.5, 209.0, 206.5, 198.0, 192.5, 193.0, 189.5, 189.0, 199.5, 187.0, 187.0, 182.0, 174.5, 166.5],
    [326.0, 326.8, 327.5, 329.0, 330.5, 331.5, 329.5, 328.5, 328.5, 333.0, 332.5, 331.5, 331.0, 332.0, 334.0, 334.0, 334.5, 335.5, 334.0, 334.0, 333.5, 331.5, 329.5],
    [167.3, 169.8, 170.3, 170.8, 172.3, 173.8, 171.8, 170.8, 170.3, 182.0, 181.0, 179.5, 175.5, 175.5, 181.0, 179.5, 179.5, 186.5, 179.5, 179.0, 177.5, 175.0, 171.5],
    [444.5, 444.8, 445.0, 445.5, 446.0, 445.5, 445.0, 446.0, 447.0, 449.5, 449.2, 449.0, 448.8, 448.5, 448.5, 448.5, 448.5, 448.5, 448.0, 447.5, 446.5, 445.0, 444.5],
    [592.5, 592.0, 591.0, 594.0, 600.5, 604.3, 600.0, 596.5, 594.5, 594.5, 594.5, 595.0, 598.5, 603.0, 610.5, 609.0, 609.5, 617.0, 610.0, 609.5, 609.0, 605.5, 601.5],
    [218.0, 216.0, 217.0, 224.5, 235.5, 243.0, 236.5, 230.5, 228.5, 228.5, 228.0, 228.5, 234.5, 245.5, 264.5, 259.0, 257.5, 280.0, 258.5, 258.0, 257.0, 248.0, 236.5],
    [384.0, 384.0, 384.0, 381.0, 379.5, 380.0, 381.5, 384.5, 387.5, 391.5, 393.0, 392.5, 392.0, 391.5, 390.0, 389.0, 390.0, 391.5, 388.5, 387.0, 385.0, 381.5, 377.5],
    [245.2, 257.7, 257.2, 253.7, 251.7, 251.7, 253.7, 259.7, 258.2, 279.2, 281.7, 278.2, 270.2, 265.2, 262.7, 260.2, 259.7, 268.7, 260.2, 259.7, 257.2, 253.2, 247.7],
    [368.5, 369.0, 369.0, 366.5, 366.0, 367.0, 369.0, 371.5, 373.5, 375.5, 376.0, 376.0, 376.0, 375.5, 374.5, 374.0, 373.8, 373.5, 372.5, 371.5, 370.0, 367.5, 364.5],
    [359.5, 359.8, 360.0, 360.0, 360.5, 361.0, 361.5, 362.0, 362.5, 365.0, 365.5, 365.5, 365.5, 365.5, 365.5, 365.0, 364.8, 364.5, 364.0, 363.0, 362.0, 360.5, 359.0],
]

fig, axes = plt.subplots(6, 5, figsize=(20.06, 13.24), dpi=100)
fig.subplots_adjust(left=0.0593, right=0.936, top=0.9556, bottom=0.0248,
                    wspace=0.296, hspace=0.352)

x = np.array(X, dtype=float)
for i, ax in enumerate(axes.flat):
    s = UNIT
    lo = np.array(BAND_LO[i]) * s
    hi = np.array(BAND_HI[i]) * s
    ax.fill_between(x, lo, hi, color="gray", alpha=0.32, linewidth=0, zorder=1)
    ax.plot(x, np.array(DASH_HI[i]) * s, "--", color="k", alpha=0.55, lw=1.5, zorder=2)
    ax.plot(x, np.array(DASH_LO[i]) * s, "--", color="k", alpha=0.55, lw=1.5, zorder=2)
    ax.plot(x, np.array(BLACK[i]) * s, "-", color="k", lw=2.2, zorder=3)
    ax.plot(x, np.array(BLACK[i]) * s, "-", color="green", lw=0.8, alpha=0.6, zorder=4)
    ax.plot(x, np.array(BLUE[i]) * s, "-", color="blue", lw=1.4, zorder=5)
    ax.axhline(ORANGE[i] * s, color="darkorange", lw=2.6, alpha=0.7, zorder=6)
    ax.axhline(RED[i] * s, color="red", lw=1.4, alpha=0.75, zorder=7)
    ax.set_title(f"Plot {i} - {SCORES[i]:.4f}", fontsize=12)
    ax.xaxis.set_major_locator(MultipleLocator(50))
    ax.yaxis.set_major_locator(MultipleLocator(YSTEP[i] * s))
    ax.tick_params(labelsize=10)

fig.savefig("out.png", dpi=100)
